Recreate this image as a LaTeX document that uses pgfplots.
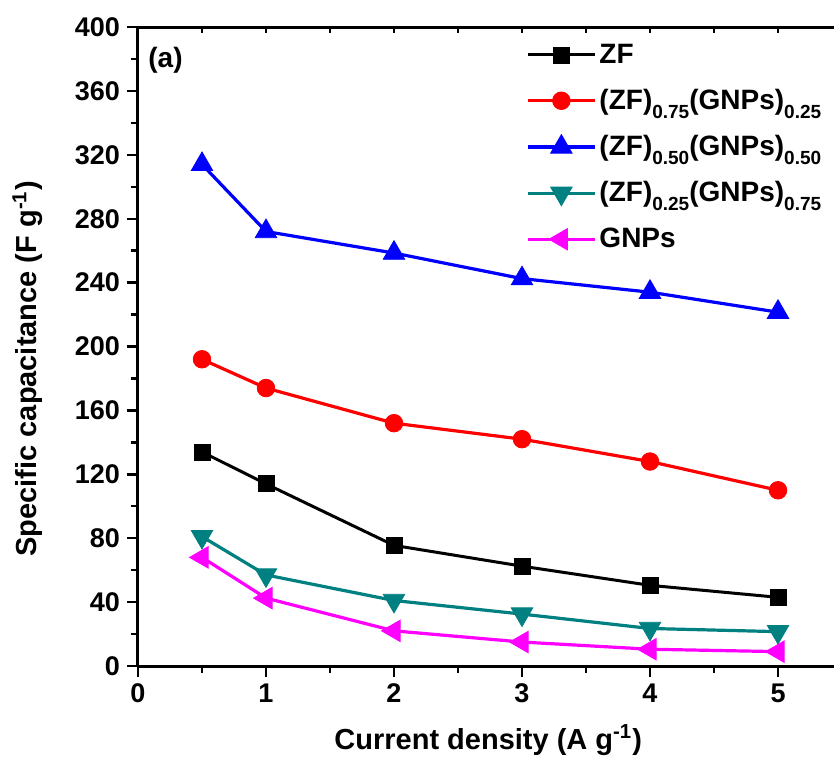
\documentclass[border=0pt]{standalone}
\usepackage{fontspec}
\setmainfont{Liberation Sans}
\usepackage{pgfplots}
\pgfplotsset{compat=1.18}

\definecolor{zfteal}{RGB}{0,128,128}
\definecolor{gnpmag}{RGB}{255,0,255}

% lowered subscript used in the legend entries
\newcommand{\sub}[1]{\raisebox{-4.5pt}{\fontsize{9.5}{10}\selectfont #1}}

\pgfplotstableread{
x    zf   zf75  zf50  zf25  gnp
0.5  134  192   314   81    68
1    114  174   272   57    42.5
2    75.5 152   258.5 41    22
3    62.5 142   242.5 32.5  15
4    50.5 128   234   23.5  10.5
5    43   110   221.5 21.5  9
}\captable

\begin{document}
\begin{tikzpicture}
\begin{axis}[
  name=ax,
  scale only axis,
  width=348.8pt, height=319.5pt,
  xmin=0, xmax=5.45, ymin=0, ymax=400,
  axis x line*=bottom, axis y line*=left,
  x axis line style={-}, y axis line style={-},
  axis line style={line width=1.5pt},
  tick align=outside,
  xtick={0,1,...,5}, ytick={0,40,...,400},
  minor x tick num=1, minor y tick num=1,
  major tick length=5.5pt, minor tick length=3.5pt,
  major tick style={black, line width=1.2pt},
  minor tick style={black, line width=1.2pt},
  tick label style={font=\fontsize{13.5}{15}\selectfont\bfseries},
  /pgf/number format/assume math mode=true,
  xlabel={Current density (A g\textsuperscript{-1})},
  ylabel={Specific capacitance (F g\textsuperscript{-1})},
  every axis x label/.style={at={(axis description cs:0.502,-0.116)}, anchor=center,
    font=\fontsize{14.5}{17}\selectfont\bfseries},
  every axis y label/.style={at={(axis description cs:-0.158,0.465)}, rotate=90, anchor=center,
    font=\fontsize{14.5}{17}\selectfont\bfseries},
  legend cell align=left,
  legend style={at={(axis description cs:0.556,0.979)}, anchor=north west,
    draw=none, fill=none, font=\fontsize{14}{16}\selectfont\bfseries,
    row sep=8.5pt, inner sep=0pt, nodes={inner sep=1.5pt}},
  legend image code/.code={\draw[mark repeat=2,mark phase=2,#1]
    plot coordinates {(0pt,0pt) (16.75pt,0pt) (33.5pt,0pt)};},
]
\addplot[black, line width=1.5pt, mark=square*, mark size=4pt,
  mark options={solid, line width=0.4pt}] table[x=x, y=zf] {\captable};
\addlegendentry{ZF}
\addplot[red, line width=1.6pt, mark=*, mark size=4.4pt,
  mark options={solid, line width=0.4pt}] table[x=x, y=zf75] {\captable};
\addlegendentry{(ZF)\sub{0.75}(GNPs)\sub{0.25}}
\addplot[blue, line width=1.6pt, mark=triangle*, mark size=6.2pt,
  mark options={solid, line width=0.4pt}] table[x=x, y=zf50] {\captable};
\addlegendentry{(ZF)\sub{0.50}(GNPs)\sub{0.50}}
\addplot[zfteal, line width=1.6pt, mark=triangle*, mark size=6.2pt,
  mark options={solid, line width=0.4pt, rotate=180}] table[x=x, y=zf25] {\captable};
\addlegendentry{(ZF)\sub{0.25}(GNPs)\sub{0.75}}
\addplot[gnpmag, line width=1.6pt, mark=triangle*, mark size=6.2pt,
  mark options={solid, line width=0.4pt, rotate=90}] table[x=x, y=gnp] {\captable};
\addlegendentry{GNPs}
\node[anchor=west, inner sep=0pt, font=\fontsize{14}{16}\selectfont\bfseries]
  at (axis cs:0.078,379) {(a)};
\end{axis}
% top frame line with short inward ticks
\begin{axis}[
  at={(ax.south west)}, anchor=south west,
  scale only axis,
  width=348.8pt, height=319.5pt,
  xmin=0, xmax=5.45, ymin=0, ymax=400,
  axis x line*=top, axis y line=none,
  x axis line style={-, line width=1.5pt},
  xtick={0,1,...,5}, minor x tick num=1, xticklabels={},
  tick align=inside,
  major tick length=3pt, minor tick length=3pt,
  major tick style={black, line width=0.7pt},
  minor tick style={black, line width=0.7pt},
]
\end{axis}
\pgfresetboundingbox
\path[use as bounding box] ([shift={(-69pt,-45.5pt)}]ax.south west) rectangle ++(417pt,378.5pt);
\end{tikzpicture}
\end{document}
